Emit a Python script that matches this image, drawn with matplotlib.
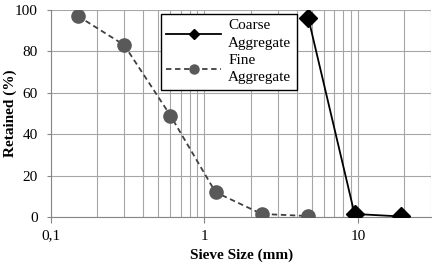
import matplotlib
matplotlib.use("Agg")
import matplotlib.pyplot as plt
from matplotlib.lines import Line2D
from matplotlib.ticker import LogLocator, FixedLocator, FixedFormatter, NullFormatter

plt.rcParams['font.family'] = ['Liberation Serif', 'DejaVu Serif']

fine_x = [0.15, 0.3, 0.6, 1.18, 2.36, 4.75]
fine_y = [97, 83, 49, 12, 1.5, 0.5]
coarse_x = [4.75, 9.5, 19]
coarse_y = [96, 1.5, 0.3]
xticks = [0.1, 1, 10]
xticklabels = ["0,1", "1", "10"]
yticks = [0, 20, 40, 60, 80, 100]

fig = plt.figure(figsize=(4.36, 2.67), dpi=100)
ax = fig.add_axes([0.117, 0.187, 0.872, 0.776])

ax.plot(coarse_x, coarse_y, color='black', lw=1.3, marker='D', ms=9,
        mfc='black', mec='black', zorder=4)
ax.plot(fine_x, fine_y, color='#404040', lw=1.3, ls=(0, (3, 2)), marker='o', ms=9.5,
        mfc='#595959', mec='#595959', zorder=3)

ax.set_xscale('log')
ax.set_xlim(0.1, 30)
ax.set_ylim(0, 100)
ax.xaxis.set_major_locator(FixedLocator(xticks))
ax.xaxis.set_major_formatter(FixedFormatter(xticklabels))
ax.xaxis.set_minor_locator(LogLocator(base=10, subs=range(2, 10)))
ax.xaxis.set_minor_formatter(NullFormatter())
ax.set_yticks(yticks)

ax.grid(True, which='major', color='#a6a6a6', lw=0.8)
ax.grid(True, which='minor', axis='x', color='#a6a6a6', lw=0.8)
ax.set_axisbelow(True)

for s in ['top', 'right']:
    ax.spines[s].set_visible(False)
for s in ['left', 'bottom']:
    ax.spines[s].set_color('#868686')
    ax.spines[s].set_linewidth(0.8)

ax.tick_params(axis='x', which='major', length=4, color='#868686', labelsize=11, pad=5)
ax.tick_params(axis='x', which='minor', length=0)
ax.tick_params(axis='y', length=3, color='#868686', labelsize=11, pad=6.5)

ax.set_xlabel('Sieve Size (mm)', fontsize=11, fontweight='bold', labelpad=4)
ax.set_ylabel('Retained (%)', fontsize=11, fontweight='bold')
ax.yaxis.set_label_coords((17 - 51) / 380, 0.5)

h_coarse = Line2D([], [], color='black', lw=1.3, marker='D', ms=5,
                  mfc='black', mec='black')
h_fine = Line2D([], [], color='#404040', lw=1.3, ls=(0, (3, 2)), marker='o', ms=6.5,
                mfc='#595959', mec='#595959')
leg = ax.legend([h_coarse, h_fine], ['Coarse\nAggregate', 'Fine\nAggregate'],
                loc='upper left', bbox_to_anchor=(161/436, 1 - 14/267),
                bbox_transform=fig.transFigure, fontsize=11, frameon=True,
                fancybox=False, framealpha=1, edgecolor='black',
                handlelength=3.6, handletextpad=0.45, borderpad=0.35,
                borderaxespad=0, labelspacing=0.25)
leg.get_frame().set_linewidth(1.0)
for t in leg.get_texts():
    t.set_linespacing(1.45)

fig.savefig('out.png', dpi=100)
